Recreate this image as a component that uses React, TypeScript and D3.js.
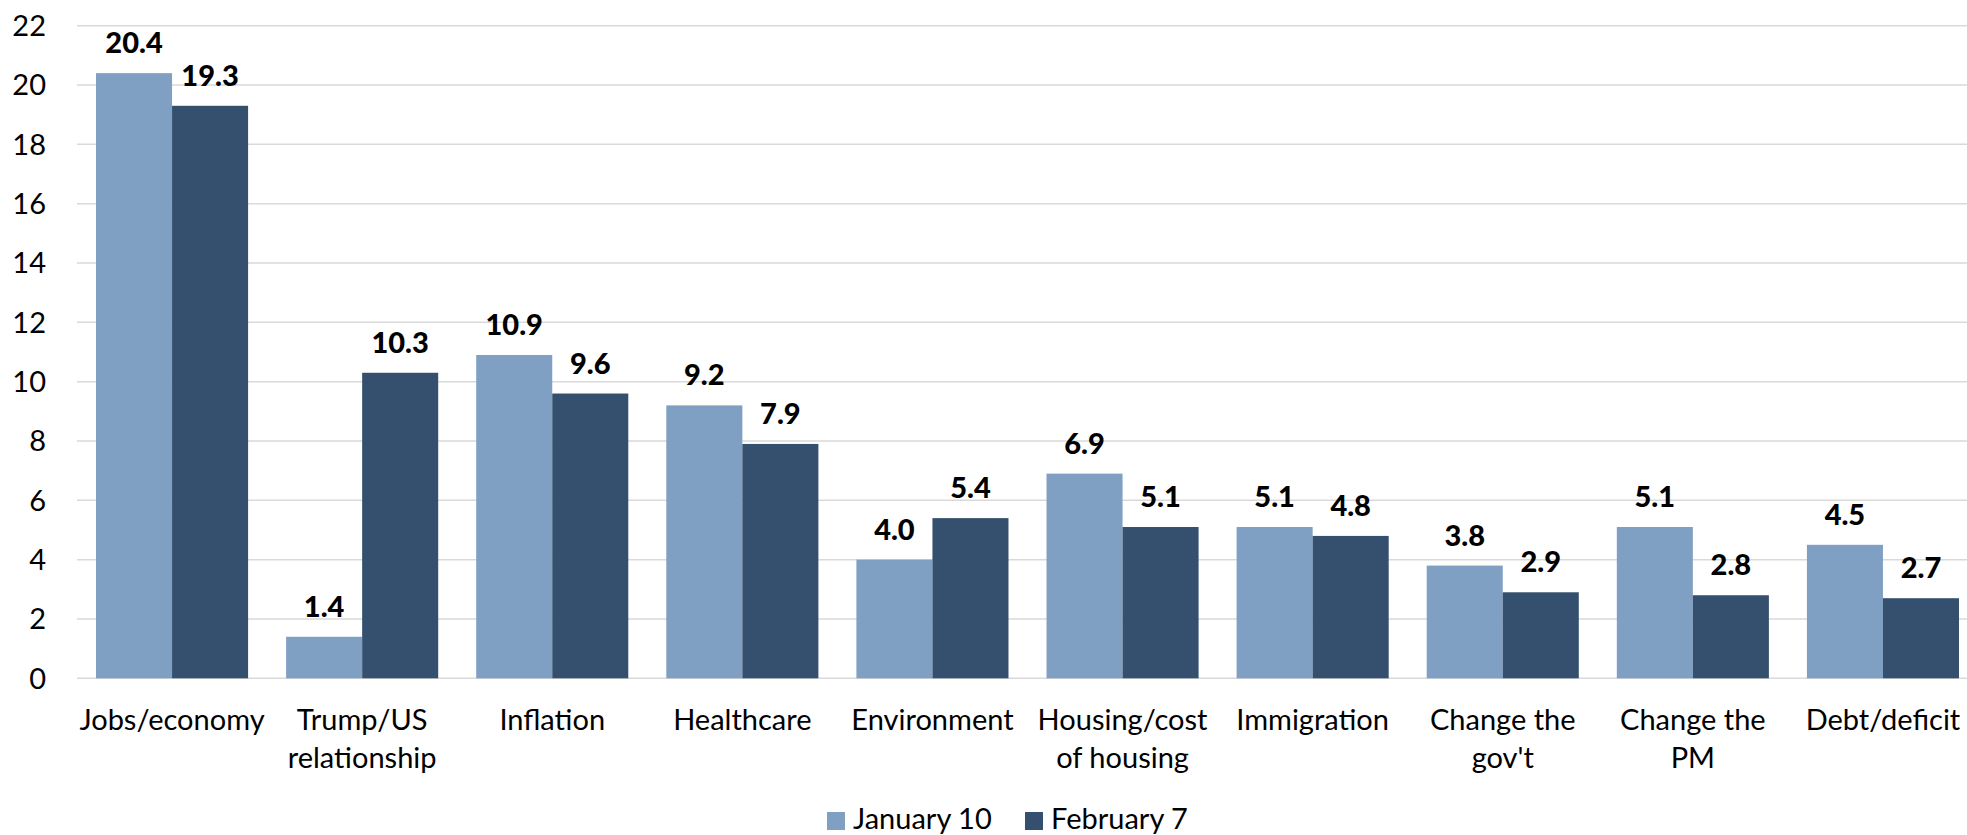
import { useEffect, useRef } from 'react'
import * as d3 from 'd3'

const categories = [
  'Jobs/economy',
  'Trump/US relationship',
  'Inflation',
  'Healthcare',
  'Environment',
  'Housing/cost of housing',
  'Immigration',
  "Change the gov't",
  'Change the PM',
  'Debt/deficit',
]
const categoryLines = [
  ['Jobs/economy'],
  ['Trump/US', 'relationship'],
  ['Inflation'],
  ['Healthcare'],
  ['Environment'],
  ['Housing/cost', 'of housing'],
  ['Immigration'],
  ['Change the', "gov't"],
  ['Change the', 'PM'],
  ['Debt/deficit'],
]
const seriesNames = ['January 10', 'February 7']
const january10 = [20.4, 1.4, 10.9, 9.2, 4.0, 6.9, 5.1, 3.8, 5.1, 4.5]
const february7 = [19.3, 10.3, 9.6, 7.9, 5.4, 5.1, 4.8, 2.9, 2.8, 2.7]
const yTicks = [0, 2, 4, 6, 8, 10, 12, 14, 16, 18, 20, 22]

const colors = ['#7f9fc3', '#34506e']
const FONT = 'Lato, "Open Sans", sans-serif'

export default function App() {
  const svgRef = useRef<SVGSVGElement>(null)
  const width = 1967
  const height = 835

  useEffect(() => {
    if (!svgRef.current) return
    const svg = d3.select(svgRef.current)
    svg.selectAll('*').remove()

    const plotLeft = 77
    const plotRight = 1978
    const plotTop = 25.7
    const plotBottom = 678.3

    const x0 = d3.scaleBand<string>()
      .domain(categories)
      .range([plotLeft, plotRight])
      .paddingInner(0.2)
      .paddingOuter(0.1)

    const x1 = d3.scaleBand<string>()
      .domain(seriesNames)
      .range([0, x0.bandwidth()])

    const y = d3.scaleLinear()
      .domain([0, 22])
      .range([plotBottom, plotTop])

    // gridlines
    svg.append('g')
      .selectAll('line')
      .data(yTicks)
      .enter().append('line')
      .attr('x1', plotLeft)
      .attr('x2', width)
      .attr('y1', d => y(d))
      .attr('y2', d => y(d))
      .attr('stroke', '#d9d9d9')
      .attr('stroke-width', 1.5)

    // y tick labels
    svg.append('g')
      .selectAll('text')
      .data(yTicks)
      .enter().append('text')
      .attr('x', 46)
      .attr('y', d => y(d))
      .attr('dy', '0.36em')
      .attr('text-anchor', 'end')
      .style('font-family', FONT)
      .style('font-size', '29px')
      .style('fill', '#000')
      .text(d => d)

    const rows = categories.map((c, i) => ({
      category: c,
      values: [january10[i], february7[i]],
    }))

    const groups = svg.append('g')
      .selectAll('g')
      .data(rows)
      .enter().append('g')
      .attr('transform', d => `translate(${x0(d.category)},0)`)

    seriesNames.forEach((name, si) => {
      groups.append('rect')
        .attr('x', x1(name)!)
        .attr('y', d => y(d.values[si]))
        .attr('width', x1.bandwidth())
        .attr('height', d => plotBottom - y(d.values[si]))
        .attr('fill', colors[si])

      groups.append('text')
        .attr('x', x1(name)! + x1.bandwidth() / 2)
        .attr('y', d => y(d.values[si]) - 20)
        .attr('text-anchor', 'middle')
        .style('font-family', FONT)
        .style('font-size', '29px')
        .style('font-weight', '900')
        .style('fill', '#000')
        .text(d => d.values[si].toFixed(1))
    })

    // category labels
    const labels = svg.append('g')
      .selectAll('text')
      .data(categories)
      .enter().append('text')
      .attr('x', d => x0(d)! + x0.bandwidth() / 2)
      .attr('y', 730)
      .attr('text-anchor', 'middle')
      .style('font-family', FONT)
      .style('font-size', '29px')
      .style('fill', '#000')

    labels.each(function (d, i) {
      const t = d3.select(this)
      categoryLines[i].forEach((line, li) => {
        t.append('tspan')
          .attr('x', x0(d)! + x0.bandwidth() / 2)
          .attr('dy', li === 0 ? 0 : 38)
          .text(line)
      })
    })

    // legend
    const legendX = [827, 1025]
    const legend = svg.append('g')
    const items = legend.selectAll('g')
      .data(seriesNames)
      .enter().append('g')
      .attr('transform', (d, i) => `translate(${legendX[i]},0)`)

    items.append('rect')
      .attr('x', 0)
      .attr('y', 812)
      .attr('width', 18)
      .attr('height', 18)
      .attr('fill', (d, i) => colors[i])

    items.append('text')
      .attr('x', 26)
      .attr('y', 829)
      .style('font-family', FONT)
      .style('font-size', '29px')
      .style('fill', '#000')
      .text(d => d)
  }, [])

  return (
    <svg
      ref={svgRef}
      width={width}
      height={height}
      style={{ position: 'absolute', left: 0, top: 0, background: '#fff', overflow: 'hidden' }}
    />
  )
}
